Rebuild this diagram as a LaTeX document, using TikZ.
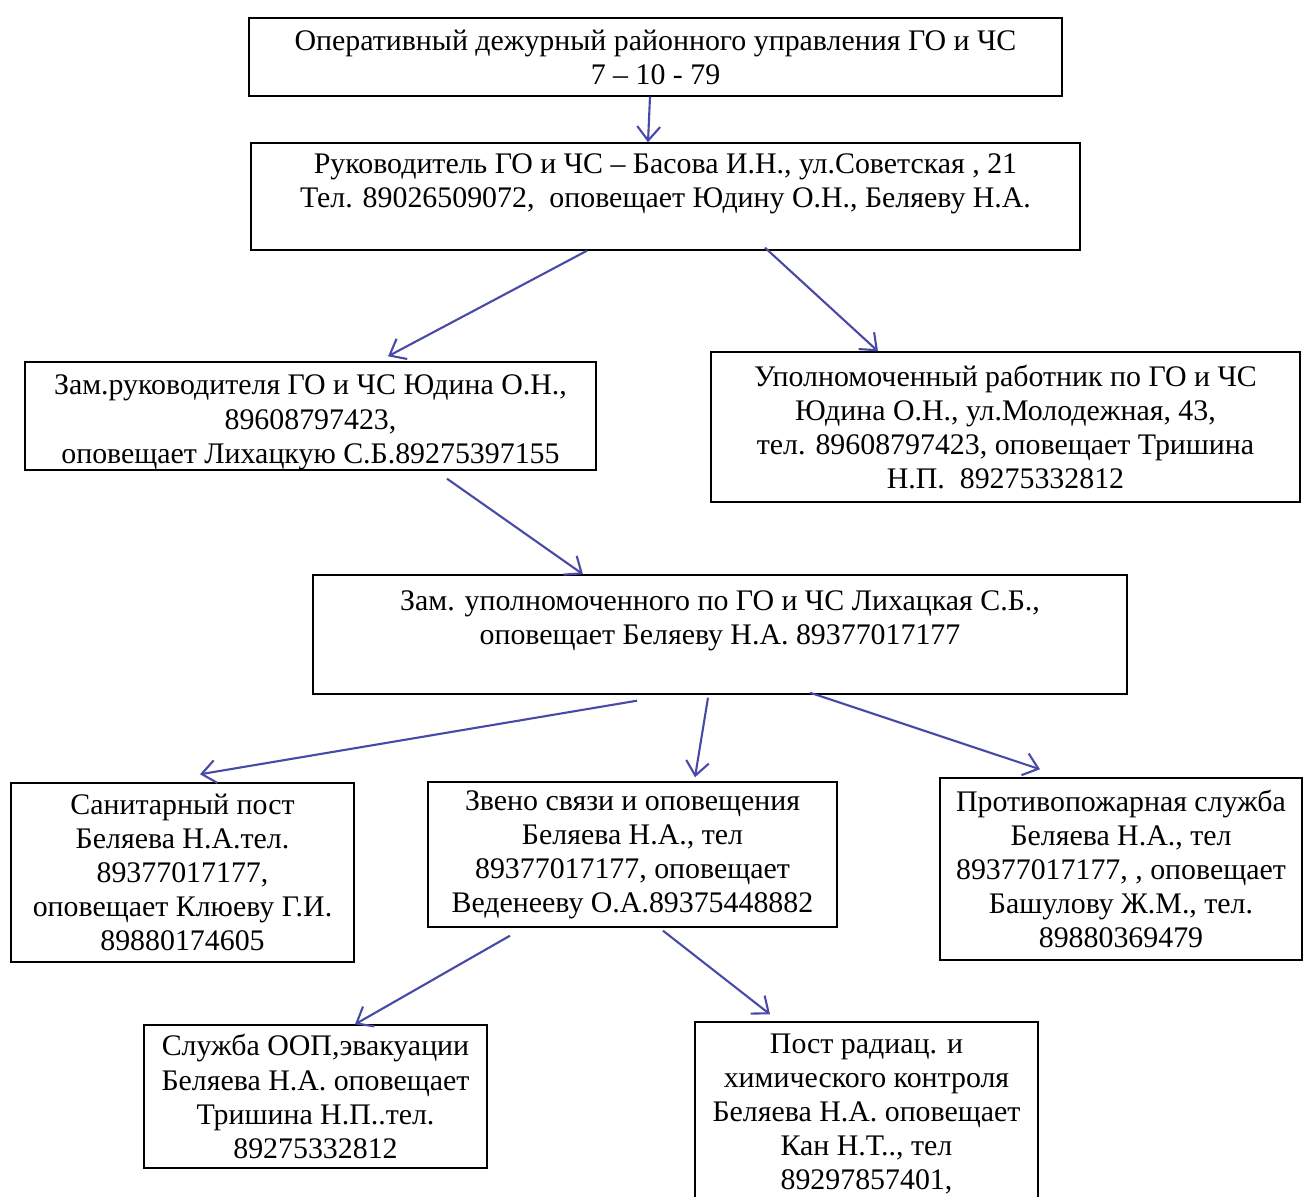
\documentclass[tikz,border=0pt]{standalone}
\usepackage{fontspec}
\setmainfont{Liberation Serif}
\usetikzlibrary{
    arrows.meta
}
\usepackage{xcolor}
\definecolor{chernila}{RGB}{72,74,168}
% podnimaet / opuskaet tekst vnutri ramki
\newcommand{\podnyat}[1]{\rule[-#1]{0pt}{#1}}
\newcommand{\opustit}[1]{\rule{0pt}{#1}}

\begin{document}
\begin{tikzpicture}[
    every node/.style={font=\fontsize{17}{19.4}\selectfont},
    blok/.style={
        draw,
        thick,
        inner sep=2pt,
        align=center
    },
    strelka/.style={
        -{Straight Barb[length=8pt,width=13pt]},
        draw=chernila,
        line width=1.2pt
    }
]
\useasboundingbox (0,0) rectangle (26.08,-23.94);
\clip (0,0) rectangle (26.08,-23.94);

\node[blok, minimum width=16.26cm, minimum height=1.56cm] (dezhurny) at (13.11,-1.14)
    {Оперативный дежурный районного управления ГО и ЧС\\7 – 10 - 79};
\node[blok, minimum width=16.58cm, minimum height=2.14cm] (rukovod) at (13.31,-3.93)
    {Руководитель ГО и ЧС – Басова И.Н., ул.Советская , 21\\Тел. 89026509072,\ \ оповещает Юдину О.Н., Беляеву Н.А.\podnyat{0.64cm}};

\node[blok, inner ysep=0pt, minimum width=11.42cm, minimum height=2.16cm] (zam) at (6.21,-8.32)
    {\opustit{0.65cm}Зам.руководителя ГО и ЧС Юдина О.Н.,\\89608797423,\\оповещает Лихацкую С.Б.89275397155};
\node[blok, minimum width=11.78cm, minimum height=3.0cm] (upoln) at (20.11,-8.54)
    {Уполномоченный работник по ГО и ЧС\\Юдина О.Н., ул.Молодежная, 43,\\тел. 89608797423, оповещает Тришина\\Н.П.\ \ 89275332812};

\node[blok, minimum width=16.28cm, minimum height=2.38cm] (zamupoln) at (14.4,-12.69)
    {Зам. уполномоченного по ГО и ЧС Лихацкая С.Б.,\\оповещает Беляеву Н.А. 89377017177\podnyat{0.68cm}};

\node[blok, minimum width=6.86cm, minimum height=3.58cm] (sanpost) at (3.65,-17.45)
    {Санитарный пост\\Беляева Н.А.тел.\\89377017177,\\оповещает Клюеву Г.И.\\89880174605};
\node[blok, minimum width=8.18cm, minimum height=2.9cm] (zveno) at (12.65,-17.09)
    {Звено связи и оповещения\\Беляева Н.А., тел\\89377017177, оповещает\\Веденееву О.А.89375448882};
\node[blok, minimum width=7.24cm, minimum height=3.64cm] (pozhar) at (22.42,-17.38)
    {Противопожарная служба\\Беляева Н.А., тел\\89377017177, , оповещает\\Башулову Ж.М., тел.\\89880369479};

\node[blok, minimum width=6.86cm, minimum height=2.86cm] (oop) at (6.31,-21.93)
    {Служба ООП,эвакуации\\Беляева Н.А. оповещает\\Тришина Н.П..тел.\\89275332812};
\node[blok, minimum width=6.86cm, minimum height=3.68cm] (radiac) at (17.33,-22.28)
    {Пост радиац. и\\химического контроля\\Беляева Н.А. оповещает\\Кан Н.Т.., тел\\89297857401,};

% strelki opovescheniya
\draw[strelka] ([xshift=-0.11cm]dezhurny.south) -- ([xshift=-0.35cm]rukovod.north);
\draw[strelka] ([xshift=-1.57cm]rukovod.south) -- ([xshift=1.55cm,yshift=0.1cm]zam.north);
\draw[strelka] ([xshift=1.99cm,yshift=0.06cm]rukovod.south) -- ([xshift=-2.55cm]upoln.north);
\draw[strelka] ([xshift=2.73cm,yshift=-0.16cm]zam.south) -- ([xshift=-2.74cm]zamupoln.north);
\draw[strelka] ([xshift=-1.66cm,yshift=-0.12cm]zamupoln.south) -- ([xshift=0.35cm,yshift=0.16cm]sanpost.north);
\draw[strelka] ([xshift=-0.24cm,yshift=-0.06cm]zamupoln.south) -- ([xshift=1.25cm,yshift=0.08cm]zveno.north);
\draw[strelka] ([xshift=1.8cm,yshift=0.04cm]zamupoln.south) -- ([xshift=-1.62cm,yshift=0.16cm]pozhar.north);
\draw[strelka] ([xshift=-2.45cm,yshift=-0.16cm]zveno.south) -- ([xshift=0.79cm]oop.north);
\draw[strelka] ([xshift=0.61cm,yshift=-0.06cm]zveno.south) -- ([xshift=-1.93cm,yshift=0.14cm]radiac.north);

\end{tikzpicture}
\end{document}
